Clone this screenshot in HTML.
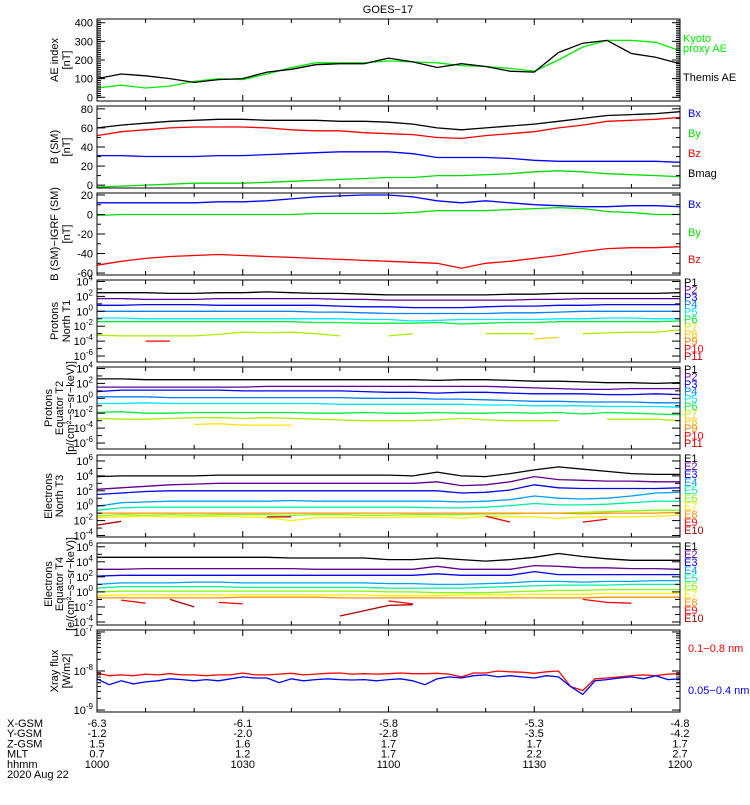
<!DOCTYPE html>
<html><head><meta charset="utf-8">
<style>
body{margin:0;background:#fff;width:750px;height:800px;overflow:hidden;font-family:"Liberation Sans",sans-serif}
svg text{font-family:"Liberation Sans",sans-serif;font-size:11px}
</style></head>
<body>
<svg id="chart" width="750" height="800" xmlns="http://www.w3.org/2000/svg">
<text x="388" y="13" text-anchor="middle" font-size="12">GOES−17</text>
<g id="bottom"></g>
</svg>
<script>
// ---- data ----
const minutes25 = [0,5,10,15,20,25,30,35,40,45,50,55,60,65,70,75,80,85,90,95,100,105,110,115,120];
const minutesX = [0,2.5,5,7.5,10,12.5,15,17.5,20,22.5,25,27.5,30,32.5,35,37.5,40,42.5,45,47.5,50,52.5,55,57.5,60,62.5,65,67.5,70,72.5,75,77.5,80,82.5,85,87.5,90,92.5,95,97.5,100,102.5,105,107.5,110,112.5,115,117.5,120];
const aeThemis = [100,125,115,100,80,95,100,135,150,175,180,180,210,190,160,180,165,140,135,240,290,305,235,215,180];
const aeKyoto = [50,65,50,60,85,100,95,125,160,185,185,185,195,190,185,170,165,155,140,200,270,305,305,295,250];
const bBmag = [60,63,65,67,68,69,69,68,68,68,67,67,66,64,60,58,60,62,64,67,70,73,74,75,77];
const bBz = [52,56,58,60,61,61,61,60,58,57,57,55,54,53,50,49,52,54,56,60,63,67,68,69,71];
const bBx = [31,31,30,30,30,31,31,32,33,34,35,35,35,33,29,29,29,28,26,25,25,25,25,25,24];
const bBy = [-2,-1,0,1,2,2,2,3,4,5,6,7,8,8,10,10,11,12,14,15,14,12,11,10,9];
const dBx = [12,12,12,12,12,13,13,14,16,18,19,20,20,18,14,12,14,12,10,9,8,8,9,9,8];
const dBy = [-1,0,0,0,0,0,0,0,0,1,1,1,1,2,4,4,4,5,6,7,6,3,2,0,0];
const dBz = [-52,-48,-45,-43,-42,-41,-42,-43,-44,-45,-46,-47,-48,-49,-50,-55,-50,-48,-45,-42,-38,-35,-34,-34,-33];
const n = null;
const t1P1 = [2.5,2.5,2.5,2.4,2.4,2.5,2.5,2.6,2.5,2.4,2.4,2.3,2.2,2.2,2.2,2.2,2.2,2.3,2.3,2.4,2.4,2.4,2.4,2.4,2.5];
const t1P2 = [1.7,1.7,1.6,1.6,1.6,1.7,1.7,1.7,1.7,1.7,1.6,1.6,1.5,1.5,1.5,1.5,1.5,1.5,1.6,1.6,1.7,1.7,1.7,1.7,1.7];
const t1P3 = [0.8,0.8,0.9,0.9,0.9,0.8,0.8,0.8,0.8,0.8,0.7,0.6,0.6,0.5,0.5,0.5,0.6,0.7,0.7,0.8,0.8,0.9,0.9,0.9,0.9];
const t1P4 = [0,0,0,0,0,0,0,0,0,-0.1,-0.1,-0.2,-0.3,-0.3,-0.3,-0.3,-0.3,-0.2,-0.2,-0.1,0,0,0,0,0];
const t1P5 = [-0.9,-0.9,-1,-1,-1,-1,-1,-1,-1,-1,-1,-1.1,-1.1,-1.3,-1.2,-1.1,-1.1,-1.1,-1.1,-1,-1,-0.9,-0.9,-1,-1];
const t1P6 = [-1.4,-1.4,-1.4,-1.4,-1.4,-1.4,-1.4,-1.4,-1.4,-1.5,-1.5,-1.6,-1.6,-1.6,-1.5,-1.7,-1.6,-1.5,-1.5,-1.4,-1.4,-1.4,-1.4,-1.4,-1.3];
const t1P7 = [-3.2,-3.3,-3.3,-3.3,-3.3,-3.1,-2.8,-2.9,-2.8,-3,-3.3,n,-3.3,-3,n,n,-3,-3,-3,n,-3,-2.9,-2.8,-2.8,-2.5];
const t1P8 = [n,n,n,n,n,n,n,n,n,n,n,n,n,n,n,n,n,n,-3.7,-3.5,n,n,n,n,n];
const t1P10 = [n,n,-4,-4,n,n,n,n,n,n,n,n,n,n,n,n,n,n,n,n,n,n,n,n,n];
const t2P1 = [2.6,2.6,2.5,2.5,2.5,2.5,2.5,2.5,2.5,2.5,2.5,2.5,2.5,2.5,2.4,2.5,2.5,2.4,2.3,2.3,2.2,2.1,2.1,2,2.1];
const t2P2 = [1.5,1.5,1.5,1.5,1.5,1.5,1.5,1.6,1.6,1.6,1.6,1.6,1.6,1.6,1.6,1.6,1.6,1.5,1.4,1.3,1.2,1.2,1.3,1.3,1.3];
const t2P3 = [0.9,1.1,1.1,1.1,1.1,1.1,1,1,1,1,1,0.9,0.8,0.8,0.7,0.8,0.8,0.7,0.6,0.6,0.6,0.5,0.5,0.6,0.5];
const t2P4 = [0.2,0.2,0.2,0.1,0.1,0.1,0.1,0.1,0.1,0.1,0.1,0,0,0,-0.1,-0.1,-0.2,-0.3,-0.4,-0.4,-0.5,-0.5,-0.5,-0.6,-0.6];
const t2P5 = [-0.7,-0.7,-0.6,-0.7,-0.7,-0.7,-0.7,-0.7,-0.7,-0.7,-0.8,-0.8,-0.8,-0.8,-0.8,-0.8,-0.9,-0.9,-1,-1,-1,-1.1,-1.1,-1.1,-1.2];
const t2P6 = [-1.9,-1.8,-2,-2,-1.9,-1.9,-1.9,-1.9,-1.9,-2,-2,-1.9,-2,-2,-1.9,-2,-2,-1.9,-2,-1.9,-2.1,-1.9,-2,-2.1,-2.2];
const t2P7 = [-2.7,-2.8,-2.8,-2.7,-2.6,-2.6,-2.7,-2.6,-2.7,-2.8,-2.9,-3,-3,-3,-2.9,-2.7,-2.9,-3,-3,-3,n,-2.8,-2.8,-2.8,-3];
const t2P8 = [n,n,n,n,-3.5,-3.4,-3.6,-3.6,-3.6,n,n,n,n,n,n,n,n,n,n,n,n,n,n,n,n];
const t3E1 = [3.9,4,4,4,4,4.1,4.1,4.1,4.1,4.1,4.1,4.1,4.1,4,4.5,4,3.9,4.3,4.8,5.2,4.9,4.6,4.3,4.2,4.2];
const t3E2 = [2.2,2.4,2.6,2.8,2.9,3,3,3,3,3,3,3,3,3,3.2,2.7,2.8,3.2,3.9,3.5,3.4,3.3,3.3,3.2,3.2];
const t3E3 = [1.5,1.7,1.9,2,2,2,2,2,2,2,2,2,2,2,2,1.7,1.8,2.1,2.8,2.4,2.3,2.3,2.3,2.3,2.4];
const t3E4 = [-0.1,0.4,0.5,0.6,0.6,0.6,0.6,0.6,0.7,0.6,0.6,0.6,0.6,0.6,0.6,0.5,0.6,0.8,1.3,1,0.9,1,1.3,1.7,1.8];
const t3E5 = [-0.6,-0.3,-0.2,-0.2,-0.2,-0.2,-0.2,-0.2,-0.2,-0.2,-0.2,-0.2,-0.2,-0.2,-0.3,-0.3,-0.2,0,0.3,0.1,0.1,0.2,0.4,0.6,0.6];
const t3E6 = [-1.4,-1.2,-1.3,-1.2,-1.3,-1.2,-1.2,-1.2,-1.3,-1.2,-1.2,-1.3,-1.3,-1.2,-1.2,-1.2,-1.1,-1.1,-1,-1,-0.9,-0.8,-0.7,-0.6,-0.6];
const t3E7 = [-1.6,-1.5,-1.4,-1.5,-1.5,-1.4,-1.5,-1.6,-2,-1.6,-1.6,-1.6,-1.6,-1.5,-1.5,-1.7,-1.4,-1.5,-1.5,-1.7,-1.5,-1.5,-1.5,-1.4,-1.3];
const t3E8 = [-1,-1,-1,-1,-1,-1,-1,-1,-1,-1,-1,-1,-1,-1,-1,-1,-1,-1,-1,-1,-1.1,-1,-1,-1,-0.9];
const t3E9 = [n,n,n,n,n,n,n,n,n,n,n,n,n,n,n,n,-1.4,-2.2,n,n,-2.2,-1.8,n,n,n];
const t3E10 = [-2.6,-2.1,n,n,n,n,n,-1.5,-1.5,n,n,n,n,n,n,n,n,n,n,n,n,n,n,n,n];
const t4E1 = [4.6,4.6,4.6,4.6,4.6,4.6,4.6,4.6,4.5,4.5,4.5,4.5,4.3,4.3,4.5,4.3,4.1,4.3,4.6,5.1,4.7,4.4,4.2,4.2,4.2];
const t4E2 = [3,3,3.1,3.1,3.1,3.1,3.1,3.1,3.1,3,3,3,3,3,3.4,3,3,3,3.5,3.4,3.2,3.2,3.1,3.1,3];
const t4E3 = [2.1,2.2,2.2,2.2,2.2,2.2,2.2,2.2,2.2,2.2,2.2,2.2,2.2,2.2,2.4,2.2,2.2,2.2,2.7,2.3,2.3,2.3,2.3,2.3,2.3];
const t4E4 = [1,1.2,1.2,1.2,1.3,1.3,1.2,1.2,1.2,1.2,1.2,1.2,1.1,1.1,1,1,1.1,1.2,1.4,1.4,1.3,1.4,1.4,1.5,1.5];
const t4E5 = [0.5,0.7,0.7,0.7,0.7,0.7,0.6,0.6,0.6,0.6,0.6,0.6,0.5,0.5,0.5,0.5,0.6,0.7,0.8,0.9,0.9,0.9,1,1,1];
const t4E6 = [0,0.1,0.1,0.1,0.1,0.1,0.1,0.1,0.1,0.1,0.1,0.1,0,0,-0.1,-0.1,-0.1,0,0.1,0.2,0.2,0.3,0.3,0.3,0.3];
const t4E7 = [-0.5,-0.4,-0.4,-0.4,-0.4,-0.4,-0.4,-0.4,-0.4,-0.4,-0.4,-0.4,-0.5,-0.5,-0.5,-0.4,-0.4,-0.4,-0.3,-0.3,-0.3,-0.2,-0.2,-0.2,-0.2];
const t4E8 = [-0.8,-0.8,-0.8,-0.8,-0.8,-0.8,-0.7,-0.7,-0.7,-0.7,-0.8,-0.8,-0.8,-0.8,-0.8,-0.8,-0.8,-0.8,-0.8,-0.8,-0.8,-0.7,-0.7,-0.7,-0.7];
const t4E9 = [n,-1.1,-1.5,n,n,-1.4,-1.6,n,n,n,n,n,-1.2,-1.6,n,n,n,n,n,n,-1,-1.4,-1.5,n,n];
const t4E10 = [n,n,n,-1,-2,n,n,n,n,n,-3.2,-2.5,-1.8,-1.7,n,n,n,n,n,n,n,n,n,n,n];
const xrayLong = [-8.05,-8.12,-8.1,-8.12,-8.08,-8.1,-8.07,-8.1,-8.1,-8.12,-8.1,-8.1,-8.05,-8.1,-8.1,-8.08,-8.06,-8.1,-8.08,-8.06,-8.05,-8.08,-8.07,-8.08,-8.07,-8.05,-8.07,-8.07,-8.06,-8.08,-8.15,-8.05,-8.05,-8,-8.02,-8.03,-8.06,-8.02,-8,-8.4,-8.5,-8.2,-8.18,-8.15,-8.12,-8.1,-8.12,-8.08,-8.07];
const xrayShort = [-8.2,-8.35,-8.25,-8.33,-8.28,-8.25,-8.2,-8.22,-8.25,-8.22,-8.25,-8.2,-8.15,-8.18,-8.18,-8.3,-8.2,-8.25,-8.22,-8.2,-8.22,-8.23,-8.22,-8.25,-8.22,-8.2,-8.25,-8.35,-8.2,-8.15,-8.18,-8.12,-8.1,-8.15,-8.12,-8.15,-8.18,-8.12,-8.15,-8.4,-8.6,-8.25,-8.22,-8.18,-8.15,-8.2,-8.12,-8.22,-8.2];
const xGsm = ["-6.3","-6.1","-5.8","-5.3","-4.8"];
const yGsm = ["-1.2","-2.0","-2.8","-3.5","-4.2"];
const zGsm = ["1.5","1.6","1.7","1.7","1.7"];
const mltLabels = ["0.7","1.2","1.7","2.2","2.7"];
const hhmmLabels = ["1000","1030","1100","1130","1200"];

// ---- drawing ----
const svg = document.getElementById('chart');
const NS = 'http://www.w3.org/2000/svg';
const X0 = 97, X1 = 680;
const xs = m => X0 + (X1 - X0) * m / 120;
function mk(tag, attrs, parent){const e=document.createElementNS(NS,tag);for(const k in attrs)e.setAttribute(k,attrs[k]);(parent||svg).appendChild(e);return e;}

const panels = [
 {name:'ae-index-panel', top:19, lo:-20, hi:420, log:false, major:[0,100,200,300,400], minor:10, labels:['AE index','[nT]'],
  series:[{name:'kyoto-ae-line',t:minutes25,v:aeKyoto,c:'#00ee00'},{name:'themis-ae-line',t:minutes25,v:aeThemis,c:'#000'}],
  legend:[['Kyoto','#00ee00',42],['proxy AE','#00ee00',52],['Themis AE','#000',81]]},
 {name:'b-sm-panel', top:106, lo:-3, hi:83, log:false, major:[0,20,40,60,80], minor:0, labels:['B (SM)','[nT]'],
  series:[{name:'bmag-line',t:minutes25,v:bBmag,c:'#000'},{name:'bz-line',t:minutes25,v:bBz,c:'#f00'},{name:'bx-line',t:minutes25,v:bBx,c:'#00f'},{name:'by-line',t:minutes25,v:bBy,c:'#00dd00'}],
  legend:[['Bx','#00f',117],['By','#00dd00',137],['Bz','#f00',157],['Bmag','#000',177]]},
 {name:'b-minus-igrf-panel', top:193, lo:-62, hi:22, log:false, major:[-60,-40,-20,0,20], minor:0, labels:['B (SM)−IGRF (SM)','[nT]'],
  series:[{name:'dbx-line',t:minutes25,v:dBx,c:'#00f'},{name:'dby-line',t:minutes25,v:dBy,c:'#00dd00'},{name:'dbz-line',t:minutes25,v:dBz,c:'#f00'}],
  legend:[['Bx','#00f',208],['By','#00dd00',236],['Bz','#f00',263]]},
 {name:'protons-t1-panel', top:280, lo:-6.8, hi:4.2, log:true, major:[4,2,0,-2,-4,-6], labels:['Protons','North T1'],
  series:[[t1P1,'#000'],[t1P2,'#5a0096'],[t1P3,'#0000ff'],[t1P4,'#0080ff'],[t1P5,'#00e8ff'],[t1P6,'#00ee40'],[t1P7,'#a8f000'],[t1P8,'#ffd000'],[t1P10,'#ff0000']].map((s,i)=>({name:'t1-proton-line-'+i,t:minutes25,v:s[0],c:s[1]})),
  legend:'P'},
 {name:'protons-t2-panel', top:367, lo:-6.8, hi:4.2, log:true, major:[4,2,0,-2,-4,-6], labels:['Protons','Equator T2'],
  series:[[t2P1,'#000'],[t2P2,'#5a0096'],[t2P3,'#0000ff'],[t2P4,'#0080ff'],[t2P5,'#00e8ff'],[t2P6,'#00ee40'],[t2P7,'#a8f000'],[t2P8,'#ffe000']].map((s,i)=>({name:'t2-proton-line-'+i,t:minutes25,v:s[0],c:s[1]})),
  legend:'P'},
 {name:'electrons-t3-panel', top:455, lo:-4.2, hi:6.8, log:true, major:[6,4,2,0,-2,-4], labels:['Electrons','North T3'],
  series:[[t3E1,'#000'],[t3E2,'#600090'],[t3E3,'#0000ff'],[t3E4,'#00a0ff'],[t3E5,'#00f0a0'],[t3E6,'#80ff00'],[t3E8,'#ff9000'],[t3E7,'#ffee00'],[t3E9,'#ff0000'],[t3E10,'#b00000']].map((s,i)=>({name:'t3-electron-line-'+i,t:minutes25,v:s[0],c:s[1]})),
  legend:'E'},
 {name:'electrons-t4-panel', top:543, lo:-4.4, hi:6.5, log:true, major:[6,4,2,0,-2,-4], labels:['Electrons','Equator T4'],
  series:[[t4E1,'#000'],[t4E2,'#600090'],[t4E3,'#0000ff'],[t4E4,'#00a0ff'],[t4E5,'#00f0a0'],[t4E6,'#80ff00'],[t4E7,'#ffee00'],[t4E8,'#ff9000'],[t4E9,'#ff0000'],[t4E10,'#b00000']].map((s,i)=>({name:'t4-electron-line-'+i,t:minutes25,v:s[0],c:s[1]})),
  legend:'E'},
 {name:'xray-flux-panel', top:630, lo:-9.05, hi:-6.95, log:true, major:[-7,-8,-9], labels:['Xray flux','[W/m2]'],
  series:[{name:'xray-long-line',t:minutesX,v:xrayLong,c:'#f00'},{name:'xray-short-line',t:minutesX,v:xrayShort,c:'#00f'}],
  legend:[['0.1−0.8 nm','#f00',652],['0.05−0.4 nm','#00f',694]]}
];
const H = 82;
const pLeg = ['P1','P2','P3','P4','P5','P6','P7','P8','P9','P10','P11'];
const pCol = ['#000','#5a0096','#0000ff','#0080ff','#00e8ff','#00ee40','#c8f000','#ffc800','#ff8000','#ff0000','#c00000'];
const eLeg = ['E1','E2','E3','E4','E5','E6','E7','E8','E9','E10'];
const eCol = ['#000','#600090','#0000ff','#00a0ff','#00f0a0','#80ff00','#ffee00','#ff9000','#ff0000','#b00000'];

panels.forEach((p,pi)=>{
  const g = mk('g',{});
  
  
  const ys = v => p.top + H - H*(v-p.lo)/(p.hi-p.lo);
  p.series.forEach(s=>{
    let segs=[],cur=[];
    s.v.forEach((v,i)=>{ if(v===null){ if(cur.length) segs.push(cur); cur=[]; } else cur.push(xs(s.t[i]).toFixed(1)+','+ys(v).toFixed(1)); });
    if(cur.length) segs.push(cur);
    segs.forEach(sg=>{ if(sg.length<2) return;
      const pl = mk('polyline',{points:sg.join(' '),fill:'none',stroke:s.c,'stroke-width':1.3},g);
      
      
    });
  });
  mk('rect',{x:X0,y:p.top,width:X1-X0,height:H,fill:'none',stroke:'#000','stroke-width':1},g);
  for(let m=10;m<120;m+=10){ const L=(m%30===0)?6:4;
    mk('line',{x1:xs(m),x2:xs(m),y1:p.top+H,y2:p.top+H-L,stroke:'#000'},g);
    mk('line',{x1:xs(m),x2:xs(m),y1:p.top,y2:p.top+L,stroke:'#000'},g);}
  p.major.forEach(v=>{ const y=ys(v);
    mk('line',{x1:X0,x2:X0+8,y1:y,y2:y,stroke:'#000'},g);
    mk('line',{x1:X1-8,x2:X1,y1:y,y2:y,stroke:'#000'},g);
    const t = mk('text',{x:X0-4,y:y+4,'text-anchor':'end'},g);
    if(p.log){ t.textContent='10'; const s=mk('tspan',{dy:-5,'font-size':8},t); s.textContent=String(v); }
    else t.textContent=String(v);
    
    
  });
  if(p.log){ for(let d=Math.ceil(p.lo); d<=p.hi; d++){ if(p.major.includes(d)) continue; const y=ys(d);
      mk('line',{x1:X0,x2:X0+5,y1:y,y2:y,stroke:'#000'},g); mk('line',{x1:X1-5,x2:X1,y1:y,y2:y,stroke:'#000'},g);}
    if(pi===7){ for(let d=-9; d<-7; d++) for(let k=2;k<10;k++){ const y=ys(d+Math.log10(k));
      mk('line',{x1:X0,x2:X0+4,y1:y,y2:y,stroke:'#000'},g); mk('line',{x1:X1-4,x2:X1,y1:y,y2:y,stroke:'#000'},g);} }
  } else if(p.minor){ for(let v=0; v<=p.hi; v+=p.minor){ const y=ys(v);
      mk('line',{x1:X0,x2:X0+4,y1:y,y2:y,stroke:'#000'},g); mk('line',{x1:X1-4,x2:X1,y1:y,y2:y,stroke:'#000'},g);} }
  else { const st=(p.major[1]-p.major[0])/2; for(let v=p.major[0]+st; v<p.major[p.major.length-1]; v+=2*st){ const y=ys(v);
      mk('line',{x1:X0,x2:X0+4,y1:y,y2:y,stroke:'#000'},g); mk('line',{x1:X1-4,x2:X1,y1:y,y2:y,stroke:'#000'},g);} }
  const cy = p.top + H/2;
  const tt = mk('text',{transform:`translate(${pi>=4&&pi<=6?52:58},${cy}) rotate(-90)`,'text-anchor':'middle'},g);
  tt.textContent = p.labels[0];
  
  
  const tt2 = mk('text',{transform:`translate(${pi>=4&&pi<=6?63:70},${cy}) rotate(-90)`,'text-anchor':'middle'},g);
  tt2.textContent = p.labels[1];
  
  
  let items;
  if(p.legend==='P') items = pLeg.map((l,i)=>[l,pCol[i],p.top+6+i*7.4]);
  else if(p.legend==='E') items = eLeg.map((l,i)=>[l,eCol[i],p.top+7+i*8]);
  else items = p.legend;
  items.forEach(it=>{ const t=mk('text',{x:p.legend==='P'||p.legend==='E'?684:(pi===0?683:688),y:it[2],fill:it[1],'font-size':(p.legend==='P'||p.legend==='E')?10:11},g);
    t.textContent=it[0];
    
    
  });
});
const u1 = mk('text',{transform:'translate(74,408) rotate(-90)','text-anchor':'middle'});
u1.textContent='[p/(cm²−s−sr−keV)]';


const u2 = mk('text',{transform:'translate(74,584) rotate(-90)','text-anchor':'middle'});
u2.textContent='[e/(cm²−s−sr−keV)]';



const bot = document.getElementById('bottom');
const rowNames = ['X-GSM','Y-GSM','Z-GSM','MLT','hhmm'];
const rowVals = [xGsm,yGsm,zGsm,mltLabels,hhmmLabels];
rowNames.forEach((r,i)=>{ const y=727+i*10.2;
  const t=mk('text',{x:7,y:y},bot); t.textContent=r;
  
  
  rowVals[i].forEach((v,j)=>{ const tv=mk('text',{x:xs(j*30),y:y,'text-anchor':'middle'},bot); tv.textContent=v;
    
     });
});
const dt = mk('text',{x:7,y:778},bot); dt.textContent='2020 Aug 22';


</script>
</body></html>
